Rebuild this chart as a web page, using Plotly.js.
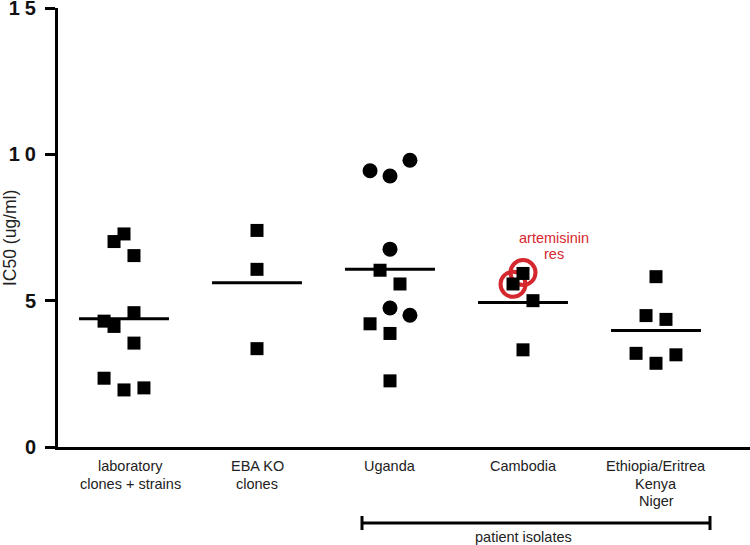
<!DOCTYPE html>
<html>
<head>
<meta charset="utf-8">
<script src="https://cdn.plot.ly/plotly-3.0.1.min.js"></script>
<style>
  html, body { margin: 0; padding: 0; background: #fff; }
  #chart { width: 750px; height: 545px; }
  .ytick text { letter-spacing: 5px; }
</style>
</head>
<body>
<div id="chart"></div>
<script>
// ---------- data ----------
const categories = ['laboratory<br>clones + strains', 'EBA KO<br>clones', 'Uganda', 'Cambodia', 'Ethiopia/Eritrea<br>Kenya<br>Niger'];
const yTickVals = [0, 5, 10, 15];
const yTickText = ['0', '5', '10', '15'];

// IC50 values (ug/ml) and horizontal scatter slots (jitter steps) for each group
const labValues = [7.28, 7.02, 6.54, 4.59, 4.30, 4.12, 3.55, 2.35, 1.95, 2.02];
const labSlots  = [0, -1, 1, 1, -2, -1, 1, -2, 0, 2];

const ebaValues = [7.40, 6.07, 3.36];
const ebaSlots  = [0, 0, 0];

const ugandaCircleValues = [9.44, 9.26, 9.80, 6.76, 4.75, 4.50];
const ugandaCircleSlots  = [-2, 0, 2, 0, 0, 2];
const ugandaSquareValues = [6.04, 5.57, 4.21, 3.88, 2.26];
const ugandaSquareSlots  = [-1, 1, -2, 0, 0];

const cambodiaValues = [5.57, 5.93, 5.00, 3.32];
const cambodiaSlots  = [-1, 0, 1, 0];
const artemisininResValues = [5.56, 5.96];
const artemisininResSlots  = [-1, 0];

const ethiopiaValues = [5.82, 4.49, 4.36, 3.20, 2.86, 3.15];
const ethiopiaSlots  = [0, -1, 1, -2, 0, 2];

const groupMeans = [4.38, 5.61, 6.07, 4.94, 3.98];

const yTitle = 'IC50 (ug/ml)';
const annotationLines = ['artemisinin', 'res'];
const bracketLabel = 'patient isolates';

// ---------- styling ----------
const SLOT = 0.075;      // jitter step in category units
const HALF = 0.338;      // half width of mean bar
const FONT = 'Arial, "Liberation Sans", Helvetica, sans-serif';
const RED = '#d5272e';
const plotTop = 8, plotBottom = 447, plotH = plotBottom - plotTop;
const py = p => (plotBottom - p) / plotH;   // pixel row -> paper y

function pts(groupIndex, values, slots, symbol, size, name) {
  return {
    type: 'scatter', mode: 'markers', name: name, showlegend: false,
    x: values.map((v, k) => groupIndex + slots[k] * SLOT),
    y: values,
    marker: { symbol: symbol, size: size, color: '#000', line: { width: 0 } },
    cliponaxis: false, hoverinfo: 'y'
  };
}

const traces = [];
// mean bars
groupMeans.forEach((m, i) => {
  traces.push({
    type: 'scatter', mode: 'lines', showlegend: false,
    x: [i - HALF, i + HALF], y: [m, m],
    line: { color: '#000', width: 3 }, hoverinfo: 'skip'
  });
});
// artemisinin resistant rings (behind squares)
traces.push({
  type: 'scatter', mode: 'markers', showlegend: false,
  x: artemisininResValues.map((v, k) => 3 + artemisininResSlots[k] * SLOT),
  y: artemisininResValues,
  marker: { symbol: 'circle-open', size: 25, color: RED, line: { color: RED, width: 4 } },
  cliponaxis: false, hoverinfo: 'y'
});
traces.push(pts(0, labValues, labSlots, 'square', 13, categories[0]));
traces.push(pts(1, ebaValues, ebaSlots, 'square', 13, categories[1]));
traces.push(pts(2, ugandaCircleValues, ugandaCircleSlots, 'circle', 15, categories[2]));
traces.push(pts(2, ugandaSquareValues, ugandaSquareSlots, 'square', 13, categories[2]));
traces.push(pts(3, cambodiaValues, cambodiaSlots, 'square', 13, categories[3]));
traces.push(pts(4, ethiopiaValues, ethiopiaSlots, 'square', 13, categories[4]));

// category labels (one annotation per line for exact line spacing)
const annotations = [];
categories.forEach((c, i) => {
  c.split('<br>').forEach((line, k) => {
    annotations.push({
      text: line, xref: 'x', yref: 'paper', x: i, y: py(466 + k * 17.5),
      xshift: i === 0 ? 6 : 0,
      xanchor: 'center', yanchor: 'middle', showarrow: false,
      font: { family: FONT, size: 14.5, color: '#222' }
    });
  });
});
annotationLines.forEach((line, k) => {
  annotations.push({
    text: line, xref: 'x', yref: 'paper', x: 3, y: py(238 + k * 16),
    xshift: 31, xanchor: 'center', yanchor: 'middle', showarrow: false,
    font: { family: FONT, size: 14.5, color: RED }
  });
});
annotations.push({
  text: bracketLabel, xref: 'x', yref: 'paper', x: 3, y: py(537),
  xanchor: 'center', yanchor: 'middle', showarrow: false,
  font: { family: FONT, size: 14.5, color: '#222' }
});
annotations.push({
  text: yTitle, xref: 'paper', yref: 'paper', x: -48 / 692, y: py(238),
  xanchor: 'center', yanchor: 'middle', textangle: -90, showarrow: false,
  font: { family: FONT, size: 17.5, color: '#222' }
});

const bx0 = (362 - 124) / 133, bx1 = (710 - 124) / 133;
const shapes = [
  { type: 'line', xref: 'x', yref: 'paper', x0: bx0, x1: bx1, y0: py(523), y1: py(523), line: { color: '#000', width: 3 } },
  { type: 'line', xref: 'x', yref: 'paper', x0: bx0, x1: bx0, y0: py(516), y1: py(530), line: { color: '#000', width: 3 } },
  { type: 'line', xref: 'x', yref: 'paper', x0: bx1, x1: bx1, y0: py(516), y1: py(530), line: { color: '#000', width: 3 } }
];

const layout = {
  width: 750, height: 545,
  margin: { l: 58, r: 0, t: plotTop, b: 545 - plotBottom, pad: 0 },
  paper_bgcolor: '#fff', plot_bgcolor: '#fff',
  showlegend: false,
  xaxis: {
    range: [-66 / 133, 626 / 133], showgrid: false, zeroline: false,
    showline: true, linecolor: '#000', linewidth: 3,
    showticklabels: false, ticks: '', fixedrange: true
  },
  yaxis: {
    range: [0, 15], showgrid: false, zeroline: false,
    showline: true, linecolor: '#000', linewidth: 3,
    tickmode: 'array', tickvals: yTickVals, ticktext: yTickText,
    ticks: 'outside', ticklen: 10, tickwidth: 3, tickcolor: '#000',
    ticklabeloverflow: 'allow',
    tickfont: { family: FONT, size: 20, color: '#111', weight: 'bold' },
    fixedrange: true
  },
  annotations: annotations,
  shapes: shapes
};

Plotly.newPlot('chart', traces, layout, { displayModeBar: false, staticPlot: true });
</script>
</body>
</html>
